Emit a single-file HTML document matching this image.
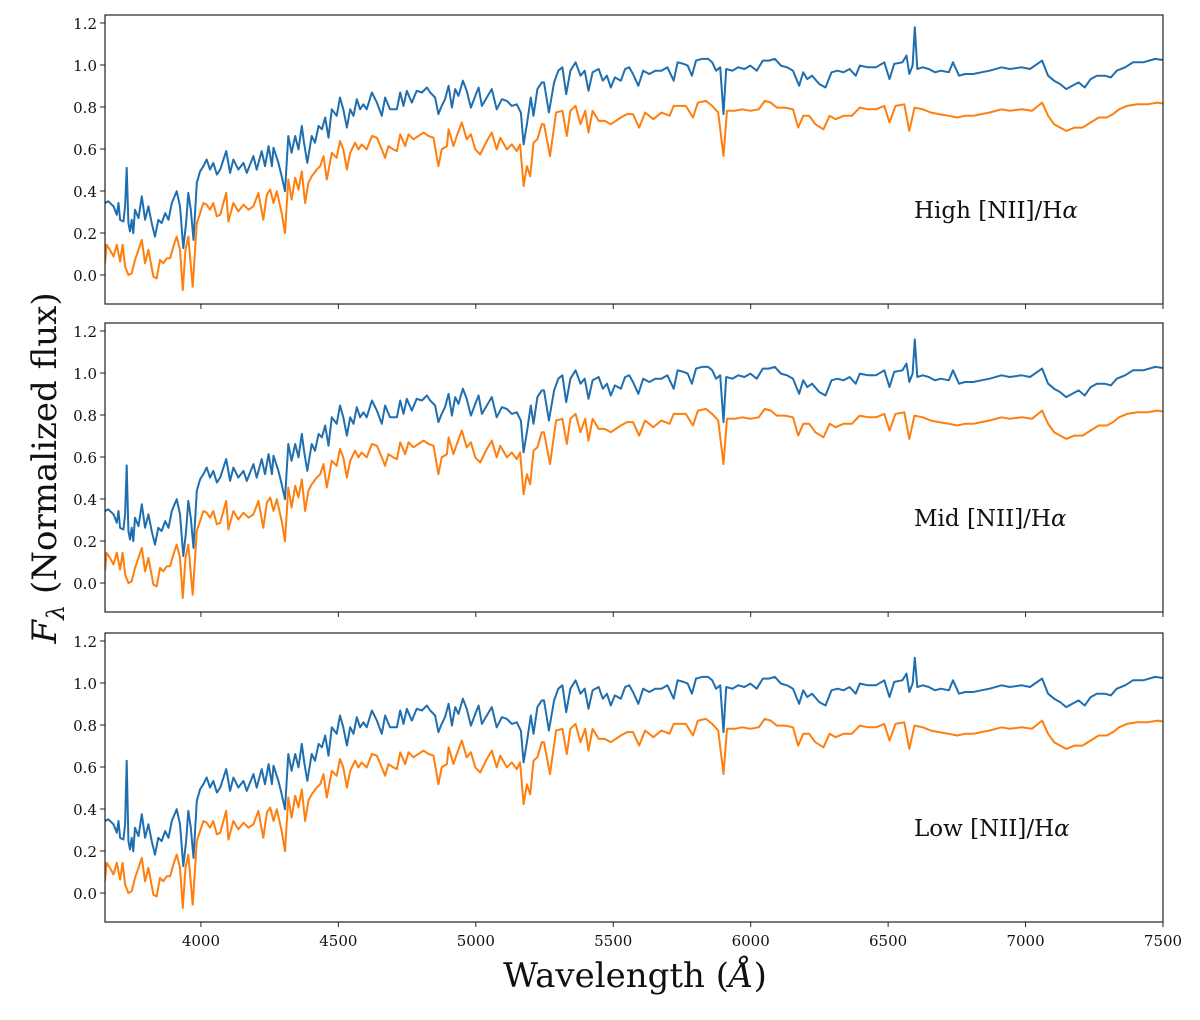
<!DOCTYPE html>
<html><head><meta charset="utf-8"><style>
body{margin:0;background:#fff;}
svg text{font-family:"DejaVu Serif","Liberation Serif",serif;}
</style></head><body>
<svg id="chart" width="1200" height="1015" xmlns="http://www.w3.org/2000/svg"></svg>
<script>
const wave = [3651,3663,3682,3694,3700,3706,3718,3724,3730,3736,3742,3748,3754,3760,3773,3785,3797,3809,3821,3833,3845,3857,3870,3882,3894,3912,3924,3936,3946,3954,3963,3973,3985,3997,4009,4021,4033,4045,4058,4070,4092,4106,4118,4136,4155,4167,4191,4203,4221,4233,4246,4258,4264,4282,4294,4306,4318,4330,4343,4355,4367,4375,4387,4403,4415,4428,4440,4452,4464,4476,4494,4506,4518,4531,4543,4555,4567,4579,4591,4603,4622,4640,4658,4670,4688,4713,4725,4737,4749,4767,4785,4804,4822,4834,4852,4864,4876,4888,4901,4913,4925,4937,4953,4967,4982,4998,5010,5022,5040,5058,5076,5095,5113,5131,5149,5164,5174,5186,5200,5210,5224,5240,5248,5266,5285,5300,5315,5329,5344,5363,5381,5396,5410,5425,5447,5462,5477,5491,5506,5528,5543,5558,5572,5591,5609,5631,5653,5675,5697,5720,5734,5756,5771,5786,5801,5823,5845,5860,5874,5889,5901,5911,5933,5955,5977,5999,6022,6044,6066,6088,6110,6132,6154,6176,6191,6206,6223,6250,6272,6294,6316,6338,6360,6382,6397,6427,6456,6486,6505,6522,6552,6567,6577,6589,6597,6606,6626,6648,6670,6692,6721,6736,6758,6780,6810,6839,6869,6913,6942,6986,7016,7060,7082,7104,7126,7148,7170,7193,7215,7237,7259,7288,7310,7332,7362,7391,7428,7472,7517];
const fluxBlue = [.343,.351,.327,.287,.343,.263,.255,.327,.510,.247,.207,.263,.199,.311,.271,.375,.263,.327,.247,.183,.263,.247,.295,.263,.343,.399,.327,.128,.247,.391,.311,.167,.439,.494,.518,.550,.502,.534,.478,.502,.590,.486,.550,.502,.534,.486,.566,.502,.590,.518,.614,.518,.606,.534,.470,.399,.662,.582,.662,.598,.710,.630,.534,.662,.630,.710,.694,.750,.654,.789,.758,.845,.789,.702,.789,.758,.837,.789,.813,.789,.869,.821,.758,.845,.789,.789,.869,.805,.877,.821,.877,.869,.893,.869,.845,.766,.805,.837,.901,.797,.885,.853,.925,.877,.797,.853,.893,.805,.845,.885,.789,.837,.829,.805,.813,.773,.622,.718,.845,.758,.885,.917,.917,.774,.917,.973,.989,.861,.973,1.013,.949,.973,.877,.965,.981,.925,.949,.893,.941,.925,.981,.989,.957,.901,.973,.957,.973,.973,.989,.925,1.013,1.005,.997,.949,1.021,1.029,1.029,1.013,.973,.989,.766,.981,.973,.989,.981,.997,.973,1.021,1.021,1.029,.997,.989,.973,.901,.965,.933,.949,.909,.893,.965,.973,.965,.981,.949,.997,.989,.989,1.013,.933,1.005,1.013,1.045,.957,.997,1.180,.981,.989,.981,.965,.973,.965,1.013,.949,.957,.957,.965,.973,.989,.981,.989,.981,1.021,.949,.925,.909,.885,.901,.917,.893,.933,.949,.949,.941,.973,.989,1.013,1.013,1.029,1.021];
const waveOrange = [3651,3657,3669,3682,3694,3706,3715,3724,3736,3748,3760,3773,3785,3797,3809,3827,3839,3851,3863,3876,3888,3900,3912,3924,3934,3944,3954,3970,3985,3997,4009,4021,4033,4045,4058,4070,4092,4100,4118,4136,4155,4173,4191,4209,4227,4240,4252,4264,4276,4294,4306,4318,4330,4343,4355,4367,4379,4391,4403,4421,4434,4446,4458,4476,4494,4506,4518,4531,4543,4561,4573,4585,4603,4622,4640,4658,4670,4682,4700,4713,4725,4743,4755,4773,4791,4810,4828,4846,4864,4876,4895,4901,4919,4931,4949,4967,4982,4998,5016,5040,5058,5076,5089,5113,5131,5149,5161,5174,5186,5198,5210,5224,5240,5248,5270,5292,5315,5331,5344,5363,5381,5398,5410,5425,5447,5469,5491,5528,5550,5572,5594,5616,5646,5675,5705,5720,5742,5764,5790,5808,5837,5860,5882,5901,5914,5941,5970,5999,6029,6051,6073,6095,6125,6154,6173,6191,6213,6235,6265,6287,6309,6338,6368,6397,6427,6456,6486,6505,6527,6559,6577,6596,6626,6655,6684,6721,6751,6780,6810,6839,6869,6913,6942,6986,7023,7060,7082,7104,7126,7148,7178,7207,7237,7266,7296,7318,7340,7369,7406,7443,7480,7517];
const fluxOrange = [.056,.144,.120,.088,.144,.064,.144,.040,.000,.008,.072,.120,.167,.056,.120,-.008,-.016,.072,.056,.080,.080,.136,.183,.120,-.072,.120,.183,-.056,.247,.295,.343,.335,.311,.343,.279,.287,.391,.255,.343,.303,.335,.311,.327,.391,.263,.383,.407,.343,.399,.295,.199,.455,.359,.463,.407,.494,.343,.439,.470,.502,.518,.566,.455,.582,.558,.638,.598,.502,.582,.630,.598,.622,.598,.662,.654,.598,.558,.614,.598,.590,.670,.614,.670,.646,.662,.678,.662,.654,.518,.598,.614,.694,.614,.662,.726,.646,.670,.598,.574,.638,.678,.598,.654,.598,.622,.590,.622,.423,.518,.470,.630,.646,.718,.718,.566,.774,.782,.662,.782,.805,.718,.782,.678,.782,.734,.734,.718,.750,.766,.766,.702,.774,.742,.774,.758,.805,.805,.805,.750,.821,.829,.805,.774,.566,.782,.782,.789,.782,.789,.829,.821,.797,.797,.789,.702,.758,.758,.718,.694,.758,.742,.758,.758,.797,.789,.789,.805,.726,.805,.813,.686,.797,.789,.774,.766,.758,.750,.758,.758,.766,.774,.789,.782,.789,.782,.821,.758,.718,.702,.686,.702,.702,.726,.750,.750,.766,.789,.805,.813,.813,.821,.813];
const panelLabels = ["High [NII]/H", "Mid [NII]/H", "Low [NII]/H"];
const oiiPeak = [0.51, 0.56, 0.63];
const haPeak = [1.18, 1.16, 1.12];
const xTicks = [4000,4500,5000,5500,6000,6500,7000,7500];
const yTicks = [0.0,0.2,0.4,0.6,0.8,1.0,1.2];

const NS="http://www.w3.org/2000/svg";
const svg=document.getElementById('chart');
function mk(t,a,p){const e=document.createElementNS(NS,t);for(const k in a)e.setAttribute(k,a[k]);(p||svg).appendChild(e);return e;}
const L=105,R=1163,XMIN=3651,XMAX=7500,YMIN=-0.138,YMAX=1.238;
const tops=[15,323,633],H=289;
const xs=v=>L+(v-XMIN)/(XMAX-XMIN)*(R-L);
tops.forEach((top,pi)=>{
  const ys=v=>top+(YMAX-v)/(YMAX-YMIN)*H;
  const g=mk('g',{});
  
  
  const cp='clip'+pi;
  const cl=mk('clipPath',{id:cp},g);mk('rect',{x:L,y:top,width:R-L,height:H},cl);
  const oFlux=fluxOrange.slice();
  const bFlux=fluxBlue.slice();
  bFlux[wave.indexOf(3730)]=oiiPeak[pi];
  bFlux[wave.indexOf(6597)]=haPeak[pi];
  let d='';waveOrange.forEach((w,i)=>{d+=(i?'L':'M')+xs(w).toFixed(1)+','+ys(oFlux[i]).toFixed(1);});
  const po=mk('path',{d:d,fill:'none',stroke:'#ff7f0e','stroke-width':2,'stroke-linejoin':'round','clip-path':'url(#'+cp+')'},g);
  
  
  d='';wave.forEach((w,i)=>{d+=(i?'L':'M')+xs(w).toFixed(1)+','+ys(bFlux[i]).toFixed(1);});
  const pb=mk('path',{d:d,fill:'none',stroke:'#1f6fb0','stroke-width':2,'stroke-linejoin':'round','clip-path':'url(#'+cp+')'},g);
  
  
  const fr=mk('rect',{x:L,y:top,width:R-L,height:H,fill:'none',stroke:'#222','stroke-width':1.2},g);
  
  
  yTicks.forEach(t=>{const y=ys(t);mk('line',{x1:L-5,x2:L,y1:y,y2:y,stroke:'#222','stroke-width':1},g);
    const tx=mk('text',{x:L-8,y:y+6,'text-anchor':'end','font-size':15,fill:'#111'},g);tx.textContent=t.toFixed(1);
    
    });
  xTicks.forEach(t=>{const x=xs(t);mk('line',{x1:x,x2:x,y1:top+H,y2:top+H+5,stroke:'#222','stroke-width':1},g);
    if(pi===2){const tx=mk('text',{x:x,y:top+H+24,'text-anchor':'middle','font-size':15,fill:'#111'},g);tx.textContent=t;
      
      }});
  const lb=mk('text',{x:914,y:top+203,'font-size':23,fill:'#111'},g);
  lb.textContent=panelLabels[pi];
  const al=mk('tspan',{'font-style':'italic'},lb);al.textContent='α';
  
  
});
const xt=mk('text',{x:635,y:987,'text-anchor':'middle','font-size':34,fill:'#111'});
xt.textContent='Wavelength (';const ang=mk('tspan',{'font-style':'italic'},xt);ang.textContent='Å';
const cl2=mk('tspan',{},xt);cl2.textContent=')';


const yt=mk('text',{x:0,y:0,'text-anchor':'middle','font-size':34,fill:'#111',transform:'translate(56,468) rotate(-90)'});
const f=mk('tspan',{'font-style':'italic'},yt);f.textContent='F';
const sub=mk('tspan',{'font-style':'italic','font-size':24,dy:8},yt);sub.textContent='λ';
const rest=mk('tspan',{dy:-8},yt);rest.textContent=' (Normalized flux)';


</script>
</body></html>
